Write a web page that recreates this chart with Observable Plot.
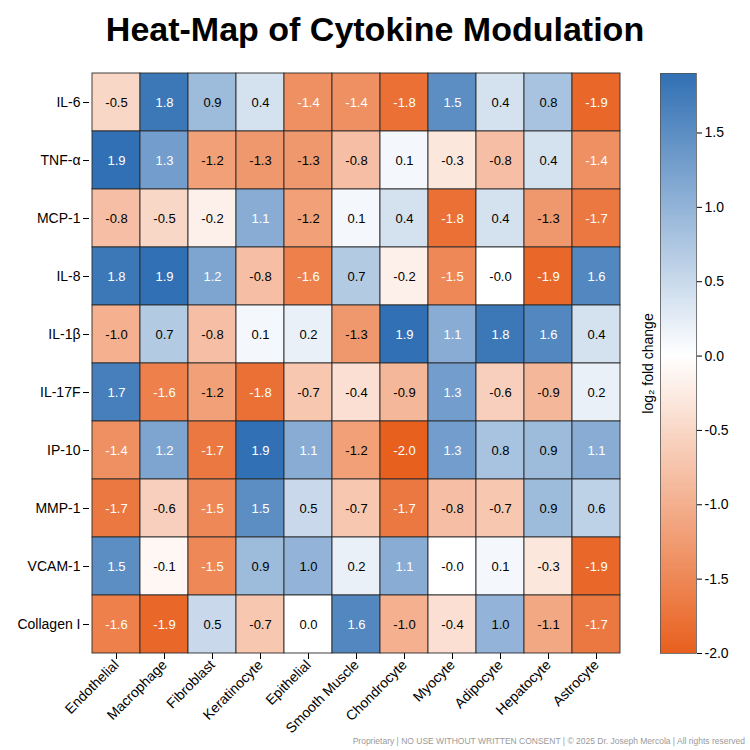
<!DOCTYPE html>
<html>
<head>
<meta charset="utf-8">
<script src="https://cdn.jsdelivr.net/npm/d3@7"></script>
<script src="https://cdn.jsdelivr.net/npm/@observablehq/plot@0.6"></script>
<style>
  html, body { margin: 0; padding: 0; background: #fff; }
  #root { position: relative; width: 750px; height: 750px; overflow: hidden; font-family: "Liberation Sans", Arial, Helvetica, sans-serif; }
  #title { position: absolute; top: 10px; left: 0; width: 750px; text-align: center; font-size: 34px; font-weight: bold; color: #000; }
  #heat { position: absolute; left: 0; top: 60px; }
  #bar { position: absolute; left: 640px; top: 60px; }
  #caption { position: absolute; right: 5px; top: 736px; font-size: 8.5px; color: #9a9a9a; }
</style>
</head>
<body>
<div id="root">
  <div id="title">Heat-Map of Cytokine Modulation</div>
  <div id="heat"></div>
  <div id="bar"></div>
  <div id="caption">Proprietary | NO USE WITHOUT WRITTEN CONSENT | © 2025 Dr. Joseph Mercola | All rights reserved</div>
</div>
<script>
const cytokines = ["IL-6", "TNF-α", "MCP-1", "IL-8", "IL-1β", "IL-17F", "IP-10", "MMP-1", "VCAM-1", "Collagen I"];
const cellTypes = ["Endothelial", "Macrophage", "Fibroblast", "Keratinocyte", "Epithelial", "Smooth Muscle", "Chondrocyte", "Myocyte", "Adipocyte", "Hepatocyte", "Astrocyte"];

const il6       = [-0.5,  1.8,  0.9,  0.4, -1.4, -1.4, -1.8,  1.5,  0.4,  0.8, -1.9];
const tnfa      = [ 1.9,  1.3, -1.2, -1.3, -1.3, -0.8,  0.1, -0.3, -0.8,  0.4, -1.4];
const mcp1      = [-0.8, -0.5, -0.2,  1.1, -1.2,  0.1,  0.4, -1.8,  0.4, -1.3, -1.7];
const il8       = [ 1.8,  1.9,  1.2, -0.8, -1.6,  0.7, -0.2, -1.5, -0.0, -1.9,  1.6];
const il1b      = [-1.0,  0.7, -0.8,  0.1,  0.2, -1.3,  1.9,  1.1,  1.8,  1.6,  0.4];
const il17f     = [ 1.7, -1.6, -1.2, -1.8, -0.7, -0.4, -0.9,  1.3, -0.6, -0.9,  0.2];
const ip10      = [-1.4,  1.2, -1.7,  1.9,  1.1, -1.2, -2.0,  1.3,  0.8,  0.9,  1.1];
const mmp1      = [-1.7, -0.6, -1.5,  1.5,  0.5, -0.7, -1.7, -0.8, -0.7,  0.9,  0.6];
const vcam1     = [ 1.5, -0.1, -1.5,  0.9,  1.0,  0.2,  1.1, -0.0,  0.1, -0.3, -1.9];
const collagen1 = [-1.6, -1.9,  0.5, -0.7,  0.0,  1.6, -1.0, -0.4,  1.0, -1.1, -1.7];

const colorbarTicks = [-2.0, -1.5, -1.0, -0.5, 0.0, 0.5, 1.0, 1.5];
const colorDomain = [-2.0, 0, 1.9];
const colorRange = ["#e8601e", "#ffffff", "#3170b4"];

const rows = [il6, tnfa, mcp1, il8, il1b, il17f, ip10, mmp1, vcam1, collagen1];
const data = [];
rows.forEach((vals, i) => vals.forEach((v, j) => data.push({cytokine: cytokines[i], cell: cellTypes[j], value: v})));

const fmt = v => ((v < 0 || Object.is(v, -0)) ? "-" : "") + Math.abs(v).toFixed(1);
const font = '"Liberation Sans", Arial, Helvetica, sans-serif';
const color = {type: "linear", domain: colorDomain, range: colorRange, interpolate: "rgb"};

const heat = Plot.plot({
  width: 640, height: 685,
  marginLeft: 89, marginRight: 18, marginTop: 13, marginBottom: 92,
  style: {fontSize: "14px", fontFamily: font, color: "#000", background: "transparent", overflow: "visible"},
  x: {domain: cellTypes, padding: 0, label: null, tickRotate: -45, tickSize: 6, tickPadding: 3},
  y: {domain: cytokines, padding: 0, label: null, tickSize: 6, tickPadding: 3},
  color,
  marks: [
    Plot.cell(data, {x: "cell", y: "cytokine", fill: "value", stroke: "#2a2a2a", strokeWidth: 0.9, inset: 0}),
    Plot.text(data, {x: "cell", y: "cytokine", text: d => fmt(d.value), fontSize: 13,
      fill: d => (d.value > 1.0 || d.value < -1.3) ? "#ffffff" : "#000000"})
  ]
});
document.getElementById("heat").appendChild(heat);

// colorbar gradient strips
const step = (colorDomain[2] - colorDomain[0]) / 390;
const strips = d3.range(0, 390).map(i => colorDomain[0] + i * step);

const bar = Plot.plot({
  width: 110, height: 608,
  marginLeft: 20, marginRight: 54, marginTop: 13, marginBottom: 15,
  style: {fontSize: "14px", fontFamily: font, color: "#000", background: "transparent", overflow: "visible"},
  x: {axis: null, domain: [0, 1]},
  y: {domain: [colorDomain[0], colorDomain[2]], axis: "right", ticks: colorbarTicks, tickFormat: fmt, label: null, tickSize: 5, tickPadding: 3},
  color,
  marks: [
    Plot.rect(strips, {x1: 0, x2: 1, y1: d => d, y2: d => Math.min(d + step * 1.6, colorDomain[2]), fill: d => d + step / 2}),
    Plot.frame({stroke: "#555", strokeWidth: 0.8}),
    Plot.text(["log₂ fold change"], {frameAnchor: "left", textAnchor: "middle", rotate: -90, dx: -12, fontSize: 14, fill: "#000"})
  ]
});
document.getElementById("bar").appendChild(bar);
</script>
</body>
</html>
